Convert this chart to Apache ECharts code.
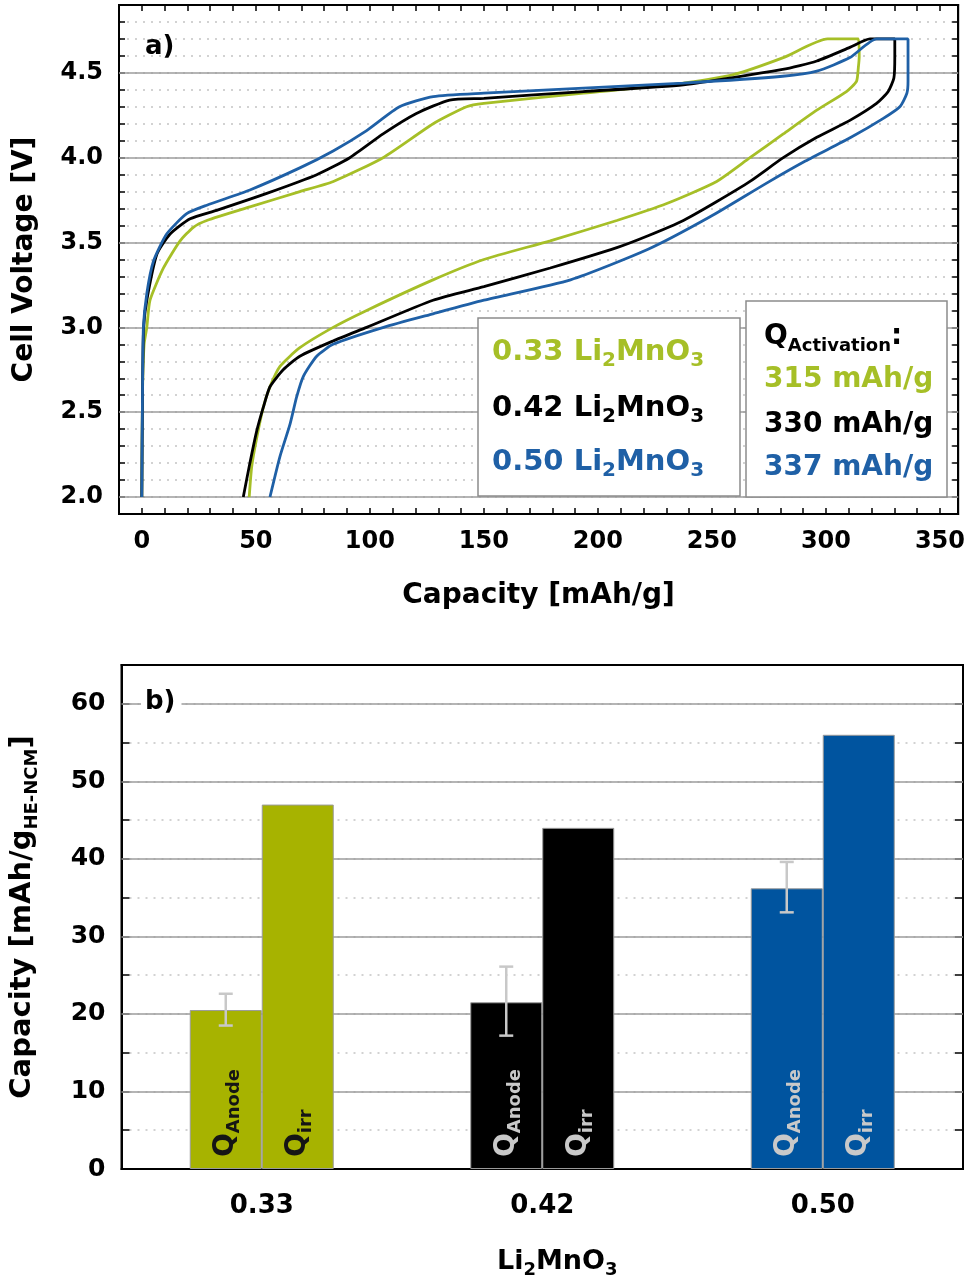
<!DOCTYPE html>
<html>
<head>
    <meta charset="utf-8">
    <style>
        html, body {
            margin: 0;
            padding: 0;
            background: #fff;
        }

        .container {
            width: 968px;
            height: 1280px;
        }
    </style>
</head>
<body>
<div id="main" class="container"></div>

<script src="https://cdn.jsdelivr.net/npm/echarts@6/dist/echarts.min.js"></script>
<script type="text/javascript">
// --- data ---
var fractions = ['0.33', '0.42', '0.50'];
var lineColors = ['#a6bf27', '#000000', '#1f60a6'];
var barColors = ['#a7b300', '#000000', '#00549f'];
var qActivation = [315, 330, 337];

// panel a) charge/discharge curves, capacity [mAh/g] and voltage [V]
var cap033 = [0, 0.3, 1.0, 2.2, 3.6, 9.5, 16.8, 22.6, 28.5, 47.4, 69.3, 84, 105.8, 127.8, 142.4, 150, 193.7, 237.5, 259.4, 281.3, 300.7, 314.2,
    314.6, 314.2, 313.4, 309, 296, 281.3, 266.7, 252.1, 230.2, 208.3, 179.1, 150, 127.7, 98.6, 83.9, 69.3, 60.6, 56.2, 53.3, 50.4, 48.2, 47.1];
var volt033 = [2.0, 2.6, 2.9, 3.0, 3.16, 3.35, 3.51, 3.59, 3.63, 3.71, 3.80, 3.86, 4.0, 4.2, 4.3, 4.32, 4.38, 4.44, 4.49, 4.59, 4.70, 4.70,
    4.60, 4.53, 4.45, 4.39, 4.28, 4.14, 4.0, 3.86, 3.73, 3.63, 3.51, 3.40, 3.28, 3.10, 3.0, 2.88, 2.77, 2.65, 2.53, 2.35, 2.18, 2.0];

var cap042 = [0, 0.3, 0.8, 2.2, 6.6, 12.4, 21.2, 32.8, 54.8, 76.7, 91.2, 105.8, 120.4, 135, 150, 193.7, 237.5, 281, 296, 310.5, 319.3, 330.2,
    330.2, 329.8, 327.3, 322.2, 310.5, 296, 281.3, 266.7, 252, 237.5, 222, 208.3, 179.1, 150, 127.7, 98.6, 83.9, 69.3, 62, 56.2, 53.3, 50.4, 47.4, 44.5];
var volt042 = [2.0, 2.6, 3.0, 3.16, 3.43, 3.55, 3.64, 3.69, 3.79, 3.90, 4.0, 4.14, 4.26, 4.34, 4.35, 4.39, 4.43, 4.52, 4.57, 4.65, 4.70, 4.70,
    4.60, 4.47, 4.39, 4.32, 4.22, 4.12, 4.0, 3.86, 3.74, 3.63, 3.54, 3.47, 3.35, 3.24, 3.16, 3.0, 2.92, 2.83, 2.75, 2.65, 2.53, 2.39, 2.2, 2.0];

var cap050 = [0, 0.3, 0.7, 2.2, 5.1, 10.9, 19.7, 28.5, 47.4, 69.3, 83.9, 98.6, 113, 127.8, 150, 193.7, 237.5, 281, 296, 310.5, 322.2, 336,
    336, 336, 335.5, 332.4, 325, 311, 291, 274, 249, 222, 188, 150, 127.7, 106, 83.9, 76.7, 70.8, 67.9, 65, 60.6, 56.2];
var volt050 = [2.0, 2.6, 3.0, 3.2, 3.39, 3.55, 3.67, 3.72, 3.81, 3.94, 4.04, 4.16, 4.30, 4.36, 4.38, 4.41, 4.44, 4.48, 4.51, 4.59, 4.70, 4.70,
    4.60, 4.45, 4.38, 4.30, 4.23, 4.12, 3.98, 3.85, 3.65, 3.46, 3.28, 3.16, 3.08, 3.0, 2.90, 2.83, 2.71, 2.59, 2.43, 2.24, 2.0];

var voltMajor = [2.0, 2.5, 3.0, 3.5, 4.0, 4.5];

// panel b) capacities [mAh/g HE-NCM]
var qAnode = [20.5, 21.5, 36.2];
var qAnodeLow = [18.5, 17.2, 33.1];
var qAnodeHigh = [22.6, 26.1, 39.6];
var qIrr = [47.0, 44.0, 56.0];
var capMajor = [10, 20, 30, 40, 50, 60];
var barLabelColors = ['#151515', '#c9c9c9', '#c9c9c9'];

function createChart() {
    var myChart = echarts.init(document.getElementById('main'));
    var FONT = 'DejaVu Sans';
    var BAR_W = 72;
    var gridGray = '#9c9c9c';
    var dotGray = '#c4c4c4';

    function zip(xs, ys) {
        var out = [];
        for (var i = 0; i < xs.length; i++) {
            out.push([xs[i], ys[i]]);
        }
        return out;
    }

    function curve(name, xs, ys, color) {
        return {
            name: name,
            type: 'line',
            xAxisIndex: 0,
            yAxisIndex: 0,
            data: zip(xs, ys),
            showSymbol: false,
            smooth: 0.2,
            z: 3,
            lineStyle: {color: color, width: 2.8}
        };
    }

    function barData(values) {
        return values.map(function (v, i) {
            return {
                value: v,
                itemStyle: {color: barColors[i]},
                label: {color: barLabelColors[i]}
            };
        });
    }

    function barLabel(sub) {
        return {
            show: true,
            position: 'insideBottom',
            distance: 12,
            rotate: 90,
            align: 'left',
            verticalAlign: 'middle',
            formatter: '{q|Q}{s|' + sub + '}',
            rich: {
                q: {fontSize: 28, fontWeight: 'bold', fontFamily: FONT, lineHeight: 36},
                s: {fontSize: 18, fontWeight: 'bold', fontFamily: FONT, lineHeight: 18, verticalAlign: 'bottom'}
            }
        };
    }

    var boldText = {color: '#000', fontFamily: FONT, fontWeight: 'bold'};
    var frameLine = {show: true, onZero: false, lineStyle: {color: '#000', width: 2}};

    // legend boxes (drawn as graphics)
    function legendRich(color, size, subSize) {
        return {
            m: {fill: color, fontSize: size, fontWeight: 'bold', fontFamily: FONT, lineHeight: size + 9},
            s: {fill: color, fontSize: subSize, fontWeight: 'bold', fontFamily: FONT, lineHeight: subSize, verticalAlign: 'bottom'}
        };
    }

    var graphics = [
        {type: 'text', x: 145, y: 34, z: 20, style: {text: 'a)', fill: '#000', font: 'bold 26px "DejaVu Sans"'}},
        {
            type: 'text', x: 141, y: 689, z: 20,
            style: {text: 'b)', fill: '#000', font: 'bold 26px "DejaVu Sans"', backgroundColor: '#fff', padding: [0, 6, 0, 4]}
        },
        {type: 'rect', z: 20, shape: {x: 478, y: 318, width: 262, height: 178}, style: {fill: '#fff', stroke: '#8c8c8c', lineWidth: 1.5}},
        {type: 'rect', z: 20, shape: {x: 746, y: 301, width: 201, height: 196}, style: {fill: '#fff', stroke: '#8c8c8c', lineWidth: 1.5}},
        {
            type: 'text', x: 764, y: 337, z: 21,
            style: {text: '{m|Q}{s|Activation}{m|:}', rich: legendRich('#000', 28, 18), verticalAlign: 'middle'}
        }
    ];
    var legendRows = [352, 408, 462];
    var qRows = [380, 425, 468];
    fractions.forEach(function (f, i) {
        graphics.push({
            type: 'text', x: 492, y: legendRows[i], z: 21,
            style: {text: '{m|' + f + ' Li}{s|2}{m|MnO}{s|3}', rich: legendRich(lineColors[i], 29, 20), verticalAlign: 'middle'}
        });
        graphics.push({
            type: 'text', x: 764, y: qRows[i], z: 21,
            style: {text: '{m|' + qActivation[i] + ' mAh/g}', rich: legendRich(lineColors[i], 28, 18), verticalAlign: 'middle'}
        });
    });

    var option = {
        animation: false,
        backgroundColor: '#fff',
        textStyle: {fontFamily: FONT},
        grid: [
            {left: 119, right: 9, top: 5, height: 509, show: true, borderColor: '#000', borderWidth: 2},
            {left: 119, right: 5, top: 665, height: 508, show: true, borderColor: '#000', borderWidth: 2}
        ],
        xAxis: [
            {
                gridIndex: 0, type: 'value', min: -10, max: 358, interval: 10, position: 'bottom',
                axisLine: frameLine,
                axisTick: {show: true, inside: true, length: 6, lineStyle: {color: '#000', width: 1.5}},
                axisLabel: Object.assign({
                    fontSize: 24, margin: 16,
                    formatter: function (v) {
                        return (v >= 0 && Math.abs(v % 50) < 1e-6) ? String(v) : '';
                    }
                }, boldText),
                splitLine: {show: false},
                name: 'Capacity [mAh/g]', nameLocation: 'middle', nameGap: 68,
                nameTextStyle: Object.assign({fontSize: 28}, boldText)
            },
            {
                gridIndex: 0, type: 'value', min: -10, max: 358, interval: 10, position: 'top',
                axisLine: frameLine,
                axisTick: {show: true, inside: true, length: 6, lineStyle: {color: '#000', width: 1.5}},
                axisLabel: {show: false},
                splitLine: {show: false}
            },
            {
                gridIndex: 1, type: 'category', data: fractions,
                axisLine: frameLine,
                axisTick: {show: false},
                axisLabel: Object.assign({fontSize: 26, margin: 24}, boldText),
                name: '{m|Li}{s|2}{m|MnO}{s|3}', nameLocation: 'middle', nameGap: 76,
                nameTextStyle: {
                    padding: [0, 0, 0, 30],
                    rich: {
                        m: {fontSize: 27, fontWeight: 'bold', fontFamily: FONT, color: '#000', lineHeight: 34},
                        s: {fontSize: 18, fontWeight: 'bold', fontFamily: FONT, color: '#000', lineHeight: 18, verticalAlign: 'bottom'}
                    }
                }
            },
            {
                gridIndex: 1, type: 'category', data: fractions, position: 'top',
                axisLine: frameLine,
                axisTick: {show: false},
                axisLabel: {show: false},
                splitLine: {show: false}
            }
        ],
        yAxis: [
            {
                gridIndex: 0, type: 'value', min: 1.9, max: 4.9, interval: 0.1,
                axisLine: frameLine,
                axisTick: {show: true, inside: true, length: 6, lineStyle: {color: '#000', width: 1.5}},
                axisLabel: Object.assign({
                    fontSize: 24, margin: 16,
                    formatter: function (v) {
                        var r = Math.round(v * 2) / 2;
                        return (Math.abs(v - r) < 1e-6 && v > 1.95 && v < 4.6) ? r.toFixed(1) : '';
                    }
                }, boldText),
                splitLine: {show: true, showMinLine: false, showMaxLine: false, lineStyle: {color: dotGray, width: 1.5, type: [2, 6]}},
                name: 'Cell Voltage [V]', nameLocation: 'middle', nameGap: 80,
                nameTextStyle: Object.assign({fontSize: 28}, boldText)
            },
            {
                gridIndex: 0, type: 'value', min: 1.9, max: 4.9, interval: 0.1, position: 'right',
                axisLine: frameLine,
                axisTick: {show: true, inside: true, length: 6, lineStyle: {color: '#000', width: 1.5}},
                axisLabel: {show: false},
                splitLine: {show: false}
            },
            {
                gridIndex: 1, type: 'value', min: 0, max: 65, interval: 5,
                axisLine: frameLine,
                axisTick: {show: true, inside: true, length: 8, lineStyle: {color: '#000', width: 1.5}},
                axisLabel: Object.assign({
                    fontSize: 25, margin: 16,
                    formatter: function (v) {
                        return (v % 10 === 0 && v <= 60) ? String(v) : '';
                    }
                }, boldText),
                splitLine: {show: true, showMinLine: false, showMaxLine: false, lineStyle: {color: dotGray, width: 1.5, type: [2, 6]}},
                name: '{m|Capacity [mAh/g}{s|HE-NCM}{m|]}', nameLocation: 'middle', nameGap: 80,
                nameTextStyle: {
                    rich: {
                        m: {fontSize: 29, fontWeight: 'bold', fontFamily: FONT, color: '#000', lineHeight: 38},
                        s: {fontSize: 18, fontWeight: 'bold', fontFamily: FONT, color: '#000', lineHeight: 18, verticalAlign: 'bottom'}
                    }
                }
            },
            {
                gridIndex: 1, type: 'value', min: 0, max: 65, interval: 5, position: 'right',
                axisLine: frameLine,
                axisTick: {show: true, inside: true, length: 8, lineStyle: {color: '#000', width: 1.5}},
                axisLabel: {show: false},
                splitLine: {show: false}
            }
        ],
        graphic: graphics,
        series: [
            {
                type: 'line', xAxisIndex: 0, yAxisIndex: 0, data: [], z: 1,
                markLine: {
                    silent: true, symbol: ['none', 'none'], z: 1, label: {show: false},
                    lineStyle: {color: gridGray, width: 1.5, type: 'solid'},
                    data: voltMajor.map(function (v) { return {yAxis: v}; })
                }
            },
            curve(fractions[0] + ' Li2MnO3', cap033, volt033, lineColors[0]),
            curve(fractions[1] + ' Li2MnO3', cap042, volt042, lineColors[1]),
            curve(fractions[2] + ' Li2MnO3', cap050, volt050, lineColors[2]),
            {
                type: 'line', xAxisIndex: 2, yAxisIndex: 2, data: [], z: 1,
                markLine: {
                    silent: true, symbol: ['none', 'none'], z: 1, label: {show: false},
                    lineStyle: {color: gridGray, width: 1.5, type: 'solid'},
                    data: capMajor.map(function (v) { return {yAxis: v}; })
                }
            },
            {
                name: 'QAnode', type: 'bar', xAxisIndex: 2, yAxisIndex: 2, z: 3,
                barWidth: BAR_W, barGap: '0%',
                itemStyle: {borderColor: '#9a9a9a', borderWidth: 1},
                label: barLabel('Anode'),
                data: barData(qAnode)
            },
            {
                name: 'Qirr', type: 'bar', xAxisIndex: 2, yAxisIndex: 2, z: 3,
                barWidth: BAR_W, barGap: '0%',
                itemStyle: {borderColor: '#9a9a9a', borderWidth: 1},
                label: barLabel('irr'),
                data: barData(qIrr)
            },
            {
                type: 'custom', xAxisIndex: 2, yAxisIndex: 2, z: 6,
                encode: {x: 0, y: [1, 2]},
                data: qAnodeLow.map(function (lo, i) { return [i, lo, qAnodeHigh[i]]; }),
                renderItem: function (params, api) {
                    var lo = api.coord([api.value(0), api.value(1)]);
                    var hi = api.coord([api.value(0), api.value(2)]);
                    var x = lo[0] - BAR_W / 2;
                    var cap = 7;
                    var st = {stroke: '#c8c8c8', lineWidth: 2.5};
                    return {
                        type: 'group',
                        children: [
                            {type: 'line', shape: {x1: x, y1: hi[1], x2: x, y2: lo[1]}, style: st},
                            {type: 'line', shape: {x1: x - cap, y1: hi[1], x2: x + cap, y2: hi[1]}, style: st},
                            {type: 'line', shape: {x1: x - cap, y1: lo[1], x2: x + cap, y2: lo[1]}, style: st}
                        ]
                    };
                }
            }
        ]
    };

    myChart.setOption(option);
}

createChart();
</script>
</body>
</html>
